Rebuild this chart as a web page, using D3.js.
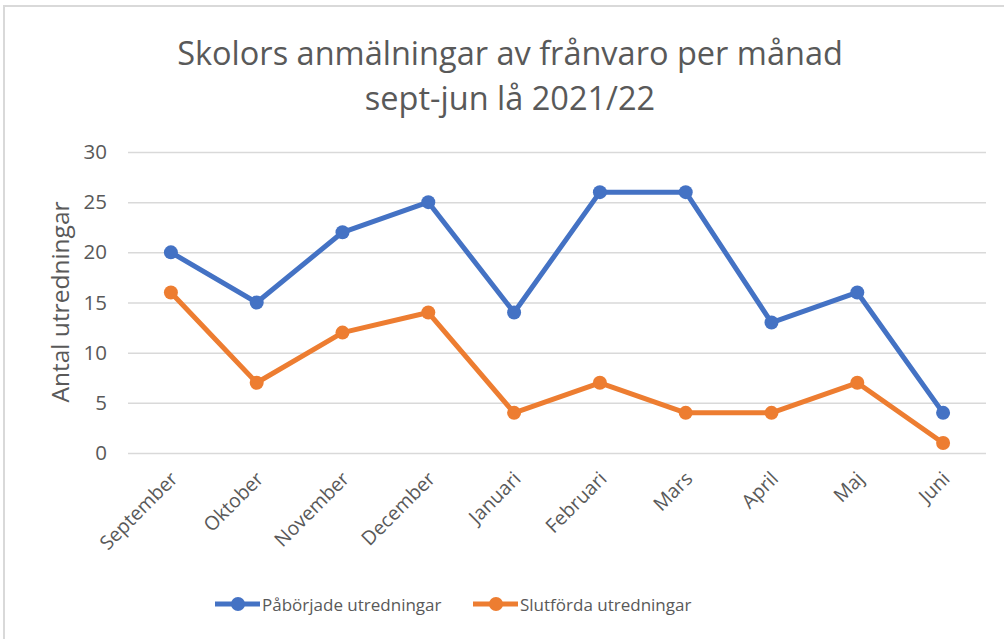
<!DOCTYPE html>
<html>
<head>
<meta charset="utf-8">
<script src="https://cdn.jsdelivr.net/npm/d3@7"></script>
<style>
  body { margin: 0; background: #fff; }
  text { font-family: "Open Sans", "Noto Sans", sans-serif; fill: #595959; }
</style>
</head>
<body>
<div id="chart"></div>
<script>
// Chart data
var months = ["September", "Oktober", "November", "December", "Januari", "Februari", "Mars", "April", "Maj", "Juni"];
var paborjade = [20, 15, 22, 25, 14, 26, 26, 13, 16, 4];
var slutforda = [16, 7, 12, 14, 4, 7, 4, 4, 7, 1];
var yTicks = [0, 5, 10, 15, 20, 25, 30];
var seriesNames = ["Påbörjade utredningar", "Slutförda utredningar"];
var colors = ["#4472C4", "#ED7D31"];

var W = 1004, H = 639;
var margin = {top: 152, right: 18, bottom: 186, left: 128},
    width = W - margin.left - margin.right,
    height = H - margin.top - margin.bottom;

var svg = d3.select("#chart")
  .append("svg")
    .attr("width", W)
    .attr("height", H);

// outer frame (only top and left edges visible in the original crop)
svg.append("path")
  .attr("d", "M4,639 L4,6 L1004,6")
  .attr("fill", "none")
  .attr("stroke", "#d9d9d9")
  .attr("stroke-width", 2);

// title
var title = svg.append("text")
  .attr("text-anchor", "middle")
  .attr("font-size", 32.5)
  .attr("fill", "#595959");
title.append("tspan").attr("x", 510).attr("y", 65).text("Skolors anmälningar av frånvaro per månad");
title.append("tspan").attr("x", 510).attr("y", 110).text("sept-jun lå 2021/22");

var g = svg.append("g")
  .attr("transform", "translate(" + margin.left + "," + margin.top + ")");

var x = d3.scaleBand()
  .domain(months)
  .range([0, width]);

var y = d3.scaleLinear()
  .domain([0, 30])
  .range([height, 0]);

// gridlines + y labels
var yAxis = g.append("g")
  .call(d3.axisLeft(y).tickValues(yTicks).tickSize(-width).tickPadding(21));
yAxis.select(".domain").remove();
yAxis.selectAll("line").attr("stroke", "#d9d9d9").attr("stroke-width", 1.5);
yAxis.selectAll("text").attr("font-size", 20.5).attr("fill", "#595959")
  .style("font-family", "'Open Sans', sans-serif");

// x labels
var xAxis = g.append("g")
  .attr("transform", "translate(0," + height + ")")
  .call(d3.axisBottom(x).tickSize(0).tickPadding(0));
xAxis.select(".domain").remove();
xAxis.selectAll("text")
  .attr("font-size", 19.5)
  .attr("fill", "#595959")
  .style("font-family", "'Open Sans', sans-serif")
  .attr("text-anchor", "end")
  .attr("dy", 0)
  .attr("transform", "translate(8,27) rotate(-45)");

// y axis title
svg.append("text")
  .attr("transform", "translate(69,302) rotate(-90)")
  .attr("text-anchor", "middle")
  .attr("font-size", 24.5)
  .text("Antal utredningar");

var line = d3.line()
  .x(function(d, i) { return x(months[i]) + x.bandwidth() / 2; })
  .y(function(d) { return y(d); });

[paborjade, slutforda].forEach(function(series, k) {
  g.append("path")
    .datum(series)
    .attr("fill", "none")
    .attr("stroke", colors[k])
    .attr("stroke-width", 5)
    .attr("stroke-linejoin", "round")
    .attr("d", line);
  g.selectAll(".dot" + k)
    .data(series)
    .enter().append("circle")
    .attr("cx", function(d, i) { return x(months[i]) + x.bandwidth() / 2; })
    .attr("cy", function(d) { return y(d); })
    .attr("r", 7)
    .attr("fill", colors[k]);
});

// legend
var legendX = [215, 473];
seriesNames.forEach(function(name, k) {
  var lg = svg.append("g").attr("transform", "translate(" + legendX[k] + ",604)");
  lg.append("line").attr("x1", 0).attr("x2", 45).attr("y1", 0).attr("y2", 0)
    .attr("stroke", colors[k]).attr("stroke-width", 5);
  lg.append("circle").attr("cx", 23).attr("cy", 0).attr("r", 7).attr("fill", colors[k]);
  lg.append("text").attr("x", 47).attr("y", 7).attr("font-size", 17).text(name);
});
</script>
</body>
</html>
